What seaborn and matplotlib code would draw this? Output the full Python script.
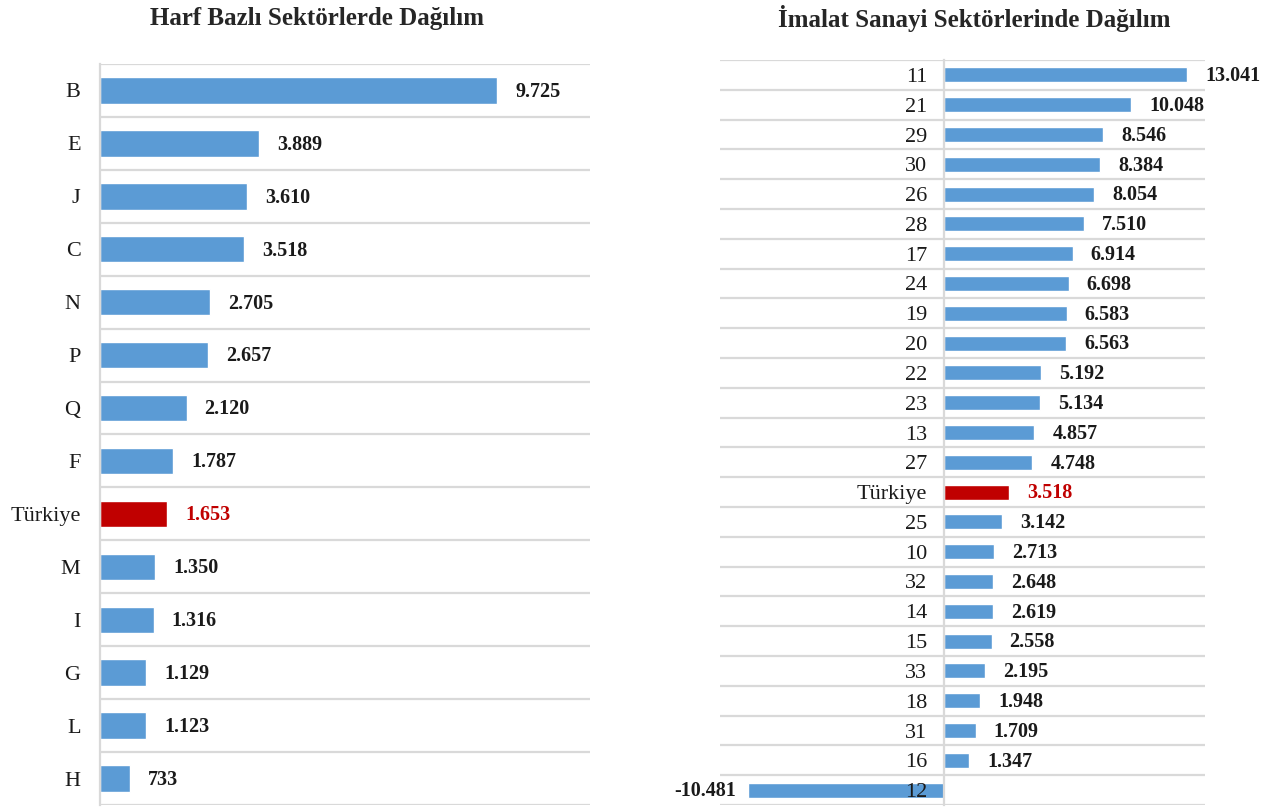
import numpy as np
import pandas as pd
import matplotlib
matplotlib.use("Agg")
import matplotlib.pyplot as plt
import seaborn as sns

# ---- data ----
left_categories = ["B", "E", "J", "C", "N", "P", "Q", "F", "Türkiye", "M", "I", "G", "L", "H"]
left_values = [9725, 3889, 3610, 3518, 2705, 2657, 2120, 1787, 1653, 1350, 1316, 1129, 1123, 733]

right_categories = ["11", "21", "29", "30", "26", "28", "17", "24", "19", "20", "22", "23", "13",
                    "27", "Türkiye", "25", "10", "32", "14", "15", "33", "18", "31", "16", "12"]
right_values = [13041, 10048, 8546, 8384, 8054, 7510, 6914, 6698, 6583, 6563, 5192, 5134, 4857,
                4748, 3518, 3142, 2713, 2648, 2619, 2558, 2195, 1948, 1709, 1347, -10481]

left_title = "Harf Bazlı Sektörlerde Dağılım"
right_title = "İmalat Sanayi Sektörlerinde Dağılım"

BLUE = "#5B9BD5"
RED = "#C00000"
GRID = "#D9D9D9"

sns.set_theme(style="white")
plt.rcParams["font.family"] = ["Liberation Serif", "DejaVu Serif"]

W, H = 1266, 810
fig = plt.figure(figsize=(W / 100, H / 100), dpi=100)


def fmt(v):
    return f"{v:,}".replace(",", ".")


def draw(ax, cats, vals, xlim, pad_pts, spine_at_zero):
    df = pd.DataFrame({"cat": cats, "val": vals})
    palette = {c: (RED if c == "Türkiye" else BLUE) for c in cats}
    sns.barplot(data=df, x="val", y="cat", hue="cat", palette=palette, legend=False,
                width=0.5, saturation=1, ax=ax, orient="h")
    ax.set_xlim(*xlim)
    n = len(cats)
    ax.set_ylim(n - 0.5, -0.5)
    ax.set_xlabel("")
    ax.set_ylabel("")
    ax.set_xticks([])
    ax.set_yticks(np.arange(-0.5, n), minor=True)
    ax.grid(False)
    ax.grid(axis="y", which="minor", color=GRID, lw=1.6)
    ax.set_axisbelow(False)
    ax.tick_params(axis="y", which="both", length=0, pad=pad_pts, labelsize=16, labelcolor="#1a1a1a")
    for s in ["top", "right", "bottom"]:
        ax.spines[s].set_visible(False)
    ax.spines["left"].set_color(GRID)
    ax.spines["left"].set_linewidth(1.6)
    if spine_at_zero:
        ax.spines["left"].set_position(("data", 0))
    for container in ax.containers:
        for bar in container:
            w = bar.get_width()
            y = bar.get_y() + bar.get_height() / 2
            idx = int(round(y))
            cat = cats[idx]
            col = RED if cat == "Türkiye" else "#1a1a1a"
            if w >= 0:
                ax.annotate(fmt(vals[idx]), (w, y), xytext=(13, -1), textcoords="offset points",
                            ha="left", va="center", fontsize=14.5, fontweight="bold", color=col)
            else:
                ax.annotate(fmt(vals[idx]), (w, y), xytext=(-9, -1), textcoords="offset points",
                            ha="right", va="center", fontsize=14.5, fontweight="bold", color=col)


axL = fig.add_axes([100 / W, 5 / H, 490 / W, 741 / H])
draw(axL, left_categories, left_values, (0, 12000), 14, False)

axR = fig.add_axes([720 / W, 5 / H, 485 / W, 745 / H])
draw(axR, right_categories, right_values, (-12000, 14000), 12, True)

fig.text(317 / W, 1 - 18 / H, left_title, ha="center", va="center", fontsize=18, fontweight="bold")
fig.text(974 / W, 1 - 18 / H, right_title, ha="center", va="center", fontsize=18, fontweight="bold")

fig.savefig("out.png", dpi=100, facecolor="white")
